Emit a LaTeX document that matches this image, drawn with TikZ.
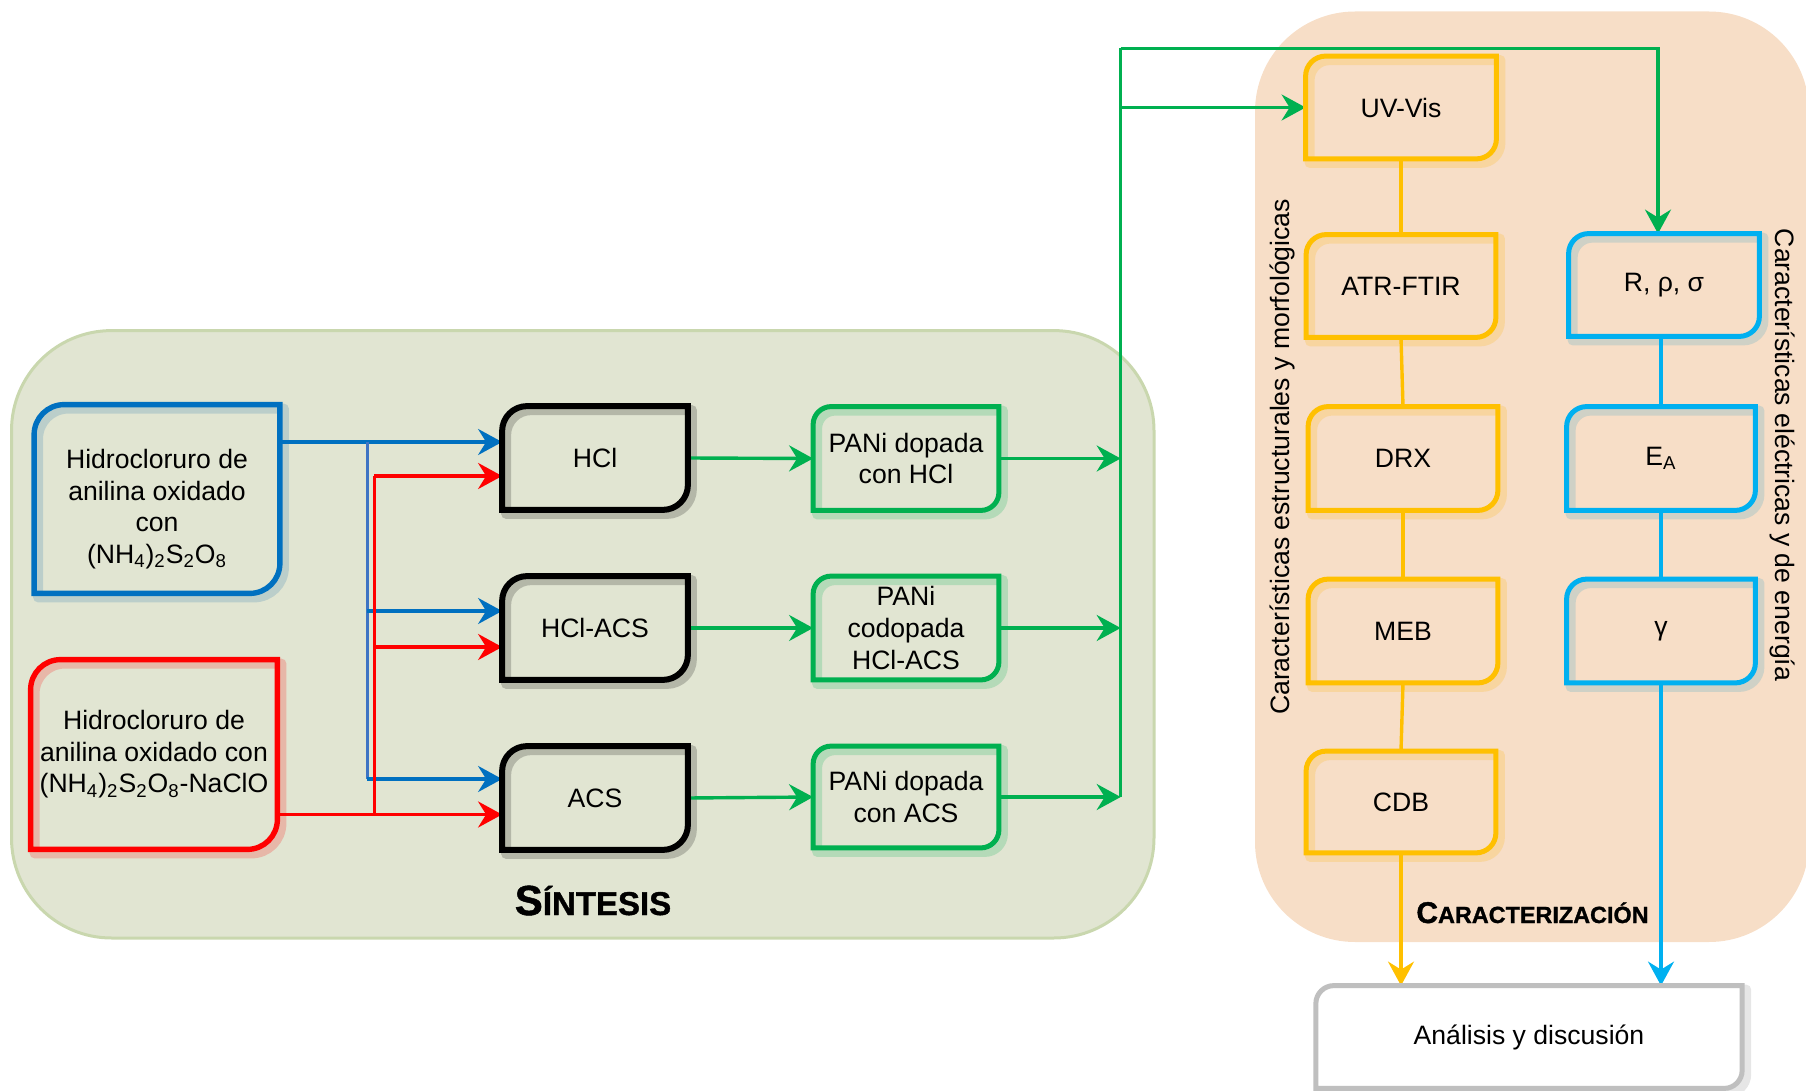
\documentclass[tikz,border=0pt]{standalone}
\usepackage{fontspec}
\setmainfont{Liberation Sans}
\usetikzlibrary{arrows.meta}
\definecolor{cblue}{HTML}{0070C0}
\definecolor{cblueline}{HTML}{3E74C4}
\definecolor{cred}{HTML}{FF0000}
\definecolor{cgreen}{HTML}{00B050}
\definecolor{cyellow}{HTML}{FFC000}
\definecolor{ccyan}{HTML}{00B0F0}
\definecolor{cgray}{HTML}{BFBFBF}
\definecolor{synbg}{HTML}{E1E5D2}
\definecolor{synbd}{HTML}{C9D7AE}
\definecolor{carbg}{HTML}{F7DEC7}

\newcommand\boxglow[3]{% name, options, radius
  \draw[#2, line width=5pt, opacity=.2, line join=round, transform canvas={shift={(2pt,-2pt)}}]
    (#1.south west) -- ([yshift=-#3]#1.north west) arc[start angle=180,end angle=90,radius=#3]
    -- (#1.north east) -- ([yshift=#3]#1.south east) arc[start angle=0,end angle=-90,radius=#3] -- cycle;}
\newcommand\boxedge[4]{% name, options, radius, width
  \draw[#2, line width=#4, line join=miter]
    (#1.south west) -- ([yshift=-#3]#1.north west) arc[start angle=180,end angle=90,radius=#3]
    -- (#1.north east) -- ([yshift=#3]#1.south east) arc[start angle=0,end angle=-90,radius=#3] -- cycle;}

\begin{document}
\begin{tikzpicture}[x=0.5pt,y=-0.5pt,
  txt/.style={font=\fontsize{13.3}{15.8}\selectfont, align=center, inner sep=0pt},
  arr/.style={line width=1.7pt, -{Stealth[length=12pt,width=13pt,inset=4pt]}},
  ln/.style={line width=1.7pt},
  ttl/.style={anchor=base, font=\bfseries\addfontfeatures{FakeBold=1.2}},
]
\useasboundingbox (0,0) rectangle (1806,1091);

% backgrounds
\draw[fill=synbg, draw=synbd, line width=1.5pt, rounded corners=50pt] (11.5,330.6) rectangle (1154,938);
\fill[carbg, rounded corners=50pt] (1255,11.5) rectangle (1809,942);

% synthesis nodes
\node[txt, minimum width=122.5pt, minimum height=94pt] (bx) at (157,499) {};
\node[txt] (bxt) at (157,509) {Hidrocloruro de\\anilina oxidado\\con\\(NH\textsubscript{4})\textsubscript{2}S\textsubscript{2}O\textsubscript{8}};
\node[txt, minimum width=123pt, minimum height=94.5pt] (rx) at (154,754.5) {Hidrocloruro de\\anilina oxidado con\\(NH\textsubscript{4})\textsubscript{2}S\textsubscript{2}O\textsubscript{8}-NaClO};
\node[txt, minimum width=92.5pt, minimum height=51.5pt] (hcl) at (595,458) {HCl};
\node[txt, minimum width=92.5pt, minimum height=51.5pt] (hclacs) at (595,628) {HCl-ACS};
\node[txt, minimum width=92.5pt, minimum height=51.5pt] (acs) at (595,798) {ACS};
\node[txt, minimum width=92.5pt, minimum height=51.5pt] (pa) at (906,458.5) {PANi dopada\\con HCl};
\node[txt, minimum width=92.5pt, minimum height=51.5pt] (pb) at (906,628) {PANi\\codopada\\HCl-ACS};
\node[txt, minimum width=92.5pt, minimum height=50.5pt] (pc) at (906,797) {PANi dopada\\con ACS};

% characterization nodes
\node[txt, minimum width=95pt, minimum height=51pt] (uv) at (1401,107.5) {UV-Vis};
\node[txt, minimum width=94.5pt, minimum height=51pt] (atr) at (1401,286) {ATR-FTIR};
\node[txt, minimum width=94.5pt, minimum height=51.5pt] (drx) at (1403,458.5) {DRX};
\node[txt, minimum width=94.5pt, minimum height=51.5pt] (meb) at (1403,631) {MEB};
\node[txt, minimum width=94.5pt, minimum height=50.5pt] (cdb) at (1401,802) {CDB};
\node[txt, minimum width=95pt, minimum height=51pt] (rr) at (1664,285) {R, ρ, σ};
\node[txt, minimum width=94pt, minimum height=51.5pt] (ea) at (1661,458.5) {E\textsubscript{A}};
\node[txt, minimum width=94pt, minimum height=51.5pt] (gam) at (1661,631) {γ};
\node[txt, minimum width=212.75pt, minimum height=51pt] (an) at (1529,1037) {};

% glows
\boxglow{bx}{cblue!70!gray}{15pt}
\boxglow{rx}{cred}{15pt}
\foreach \n in {hcl,hclacs,acs}{\boxglow{\n}{black}{12.5pt}}
\foreach \n in {pa,pb,pc}{\boxglow{\n}{cgreen}{9pt}}
\foreach \n in {uv,atr,drx,meb,cdb}{\boxglow{\n}{cyellow!80!orange}{10pt}}
\foreach \n in {rr,ea,gam}{\boxglow{\n}{ccyan!60!gray}{10pt}}
\boxglow{an}{gray}{9pt}

% connectors: blue
\coordinate (bv) at (367.3,0);
\coordinate (rv) at (374.2,0);
\coordinate (hb1) at ([yshift=8pt]hcl.west);
\coordinate (hr1) at ([yshift=-9pt]hcl.west);
\coordinate (hb2) at ([yshift=8.5pt]hclacs.west);
\coordinate (hr2) at ([yshift=-9.5pt]hclacs.west);
\coordinate (hb3) at ([yshift=9.5pt]acs.west);
\coordinate (hr3) at ([yshift=-8.25pt]acs.west);
\draw[arr, cblue] (bx.east |- hb1) -- (hb1);
\draw[ln, cblueline] (hb1 -| bv) -- (hb3 -| bv);
\draw[arr, cblue] (hb2 -| bv) -- (hb2);
\draw[arr, cblue] (hb3 -| bv) -- (hb3);
% red
\draw[arr, cred] (rx.east |- hr3) -- (hr3);
\draw[ln, cred] (hr3 -| rv) -- (hr1 -| rv);
\draw[arr, cred] (hr1 -| rv) -- (hr1);
\draw[arr, cred] (hr2 -| rv) -- (hr2);
% green
\coordinate (vtop) at (1120.7,48.4);
\coordinate (rin) at ([xshift=-3pt]rr.north);
\draw[arr, cgreen] (hcl.east) -- (pa.west);
\draw[arr, cgreen] (hclacs.east) -- (pb.west);
\draw[arr, cgreen] (acs.east) -- (pc.west);
\draw[ln, cgreen] (vtop) -- (vtop |- pc.east);
\draw[arr, cgreen] (pa.east) -- (pa.east -| vtop);
\draw[arr, cgreen] (pb.east) -- (pb.east -| vtop);
\draw[arr, cgreen] (pc.east) -- (pc.east -| vtop);
\draw[arr, cgreen] (vtop |- uv.west) -- (uv.west);
\draw[arr, cgreen] (vtop) -| (rin);
% yellow
\draw[ln, cyellow] (uv.south) -- (atr.north);
\draw[ln, cyellow] (atr.south) -- (drx.north);
\draw[ln, cyellow] (drx.south) -- (meb.north);
\draw[ln, cyellow] (meb.south) -- (cdb.north);
\draw[arr, cyellow] (cdb.south) -- (cdb.south |- an.north);
% cyan
\draw[ln, ccyan] (ea.north |- rr.south) -- (ea.north);
\draw[ln, ccyan] (ea.south) -- (gam.north);
\draw[arr, ccyan] (gam.south) -- (gam.south |- an.north);

% box outlines
\boxedge{bx}{cblue}{15pt}{2.7pt}
\boxedge{rx}{cred}{15pt}{2.7pt}
\foreach \n in {hcl,hclacs,acs}{\boxedge{\n}{black}{12.5pt}{3pt}}
\foreach \n in {pa,pb,pc}{\boxedge{\n}{cgreen}{9pt}{2.5pt}}
\foreach \n in {uv,atr,drx,meb,cdb}{\boxedge{\n}{cyellow}{10pt}{2.5pt}}
\foreach \n in {rr,ea,gam}{\boxedge{\n}{ccyan}{10pt}{2.5pt}}
\boxedge{an}{draw=cgray, fill=white}{9pt}{2.5pt}
\node[txt] (ant) at (an.center) {Análisis y discusión};

% vertical labels
\node[txt, rotate=90] (lcar) at (1282,457) {Características estructurales y morfológicas};
\node[txt, rotate=-90] (rcar) at (1783,455) {Características eléctricas y de energía};

% titles
\node[ttl] (tsin) at (593,915)
  {\fontsize{21}{24}\selectfont S\fontsize{16.5}{20}\selectfont ÍNTESIS};
\node[ttl] (tcar) at (1532.5,923)
  {\fontsize{15}{18}\selectfont C\fontsize{11.7}{14}\selectfont ARACTERIZACIÓN};
\end{tikzpicture}
\end{document}
